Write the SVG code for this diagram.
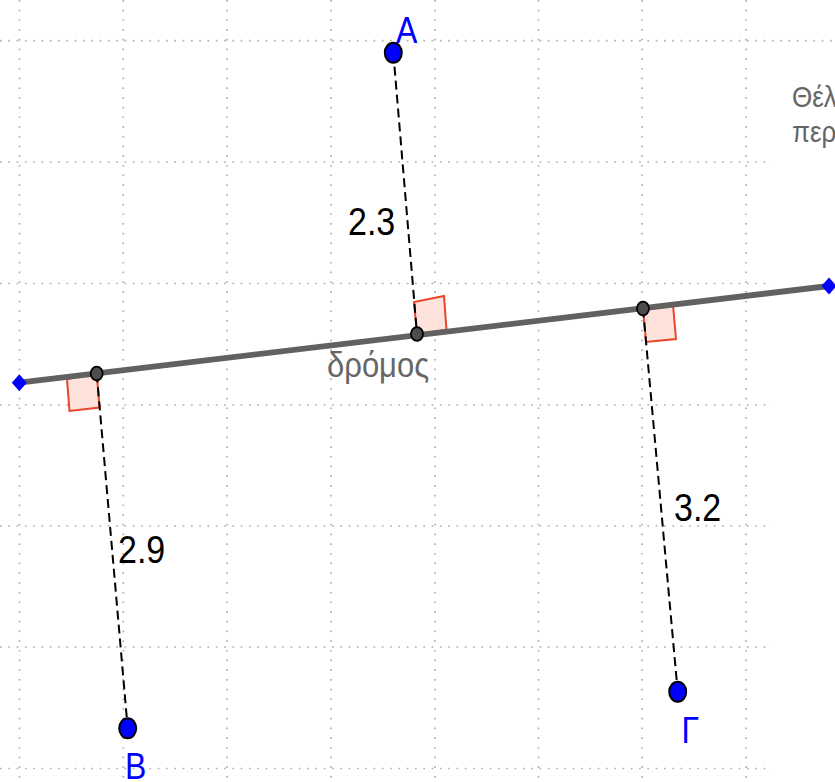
<svg xmlns="http://www.w3.org/2000/svg" width="835" height="782" viewBox="0 0 835 782">
<style>
.gh{stroke:#b0b0b0;stroke-width:1.7;stroke-dasharray:1.7 6.6;fill:none}
.gv{stroke:#b0b0b0;stroke-width:1.7;stroke-dasharray:1.7 8;fill:none}
.lbl{font-family:"Liberation Sans",Arial,sans-serif;font-size:32px;fill:#0000ff}
.num{font-family:"Liberation Sans",Arial,sans-serif;font-size:34px;fill:#000}
.road{font-family:"Liberation Sans",Arial,sans-serif;font-size:31px;fill:#666}
.side{font-family:"Liberation Sans",Arial,sans-serif;font-size:26px;fill:#666}
.pt{fill:#0000ff;stroke:#000;stroke-width:2}
.foot{fill:#4d4d4d;stroke:#000;stroke-width:1.8}
.ang{fill:#fde3dc;stroke:#e8452a;stroke-width:2;stroke-linejoin:miter}
.dash{stroke:#000;stroke-width:2;stroke-dasharray:9 5;fill:none}
.end{fill:#0000ff}
</style>
<rect width="835" height="782" fill="#fff"/>
<g id="grid">
<path class="gh" d="M0 40.7H835M0 162H772M0 283.5H772M0 405H772M0 526H772M0 647H772M0 768.5H772"/>
<path class="gv" d="M19.5 0V782M123.3 0V782M227 0V782M331 0V782M435 0V782M538.5 0V782M642 0V782M746 0V782"/>
</g>
<g id="angles">
<polygon class="ang" points="417,334 414,302 444,296 446.5,330"/>
<polygon class="ang" points="96.7,373.5 67,379 69.5,411 99.5,407.5"/>
<polygon class="ang" points="643,308.5 673,305 676,339 646,342"/>
</g>
<g id="road">
<line x1="19.3" y1="382.7" x2="829" y2="286" stroke="#616161" stroke-width="5.8"/>
<polygon class="end" points="19.3,374.2 26.8,382.7 19.3,391.2 11.8,382.7"/>
<polygon class="end" points="829,277.5 836.5,286 829,294.5 821.5,286"/>
</g>
<g id="connectors">
<line class="dash" x1="393.3" y1="52.7" x2="417" y2="334"/>
<line class="dash" x1="96.7" y1="373.5" x2="127.7" y2="728.3"/>
<line class="dash" x1="643" y1="308.5" x2="677.7" y2="691.7"/>
</g>
<g id="foot-A"><ellipse class="foot" cx="417" cy="334" rx="6" ry="6.8"/></g>
<g id="foot-B"><ellipse class="foot" cx="96.7" cy="373.5" rx="6" ry="6.8"/></g>
<g id="foot-G"><ellipse class="foot" cx="643" cy="308.5" rx="6" ry="6.8"/></g>
<g id="point-A"><ellipse class="pt" cx="393.3" cy="52.7" rx="8.5" ry="10"/><text class="lbl" transform="translate(396,42.7) scale(1,1.16)">A</text></g>
<g id="point-B"><ellipse class="pt" cx="127.7" cy="728.3" rx="8.5" ry="10"/><text class="lbl" transform="translate(125,779) scale(1,1.16)">B</text></g>
<g id="point-G"><ellipse class="pt" cx="677.7" cy="691.7" rx="8.5" ry="10"/><text class="lbl" transform="translate(681.5,743) scale(1,1.16)">Γ</text></g>
<g id="labels">
<text class="num" transform="translate(348,235) scale(1,1.15)">2.3</text>
<text class="num" transform="translate(674,521) scale(1,1.15)">3.2</text>
<text class="num" transform="translate(118,562.7) scale(1,1.15)">2.9</text>
<text class="road" transform="translate(327,377) scale(1,1.16)">δρόμος</text>
<text class="side" transform="translate(792,107) scale(1,1.16)">Θέλ</text>
<text class="side" transform="translate(792,142) scale(1,1.16)">περ</text>
</g>
</svg>
